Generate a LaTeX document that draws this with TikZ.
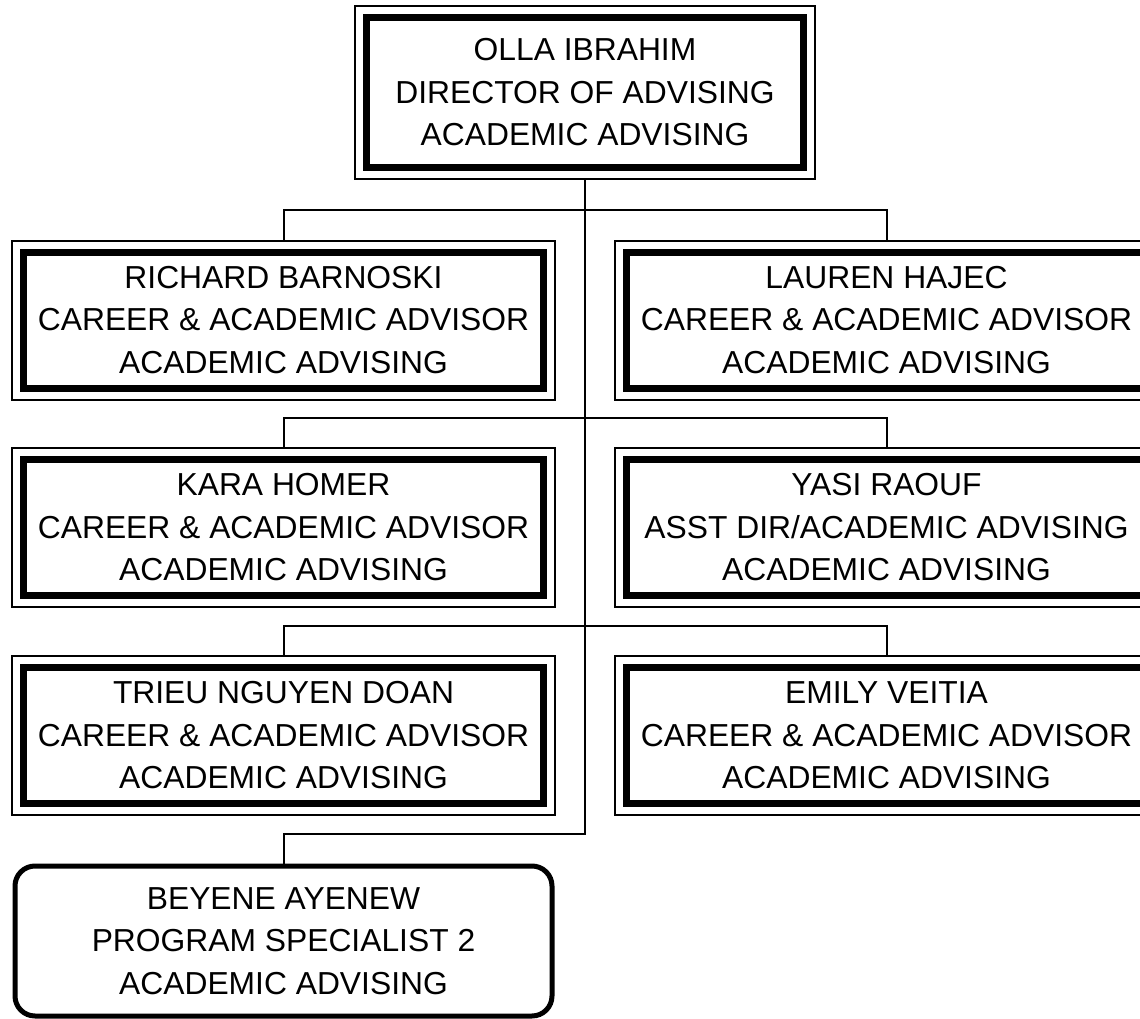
\documentclass[tikz,border=0pt]{standalone}
\usepackage{fontspec}
\setmainfont{Liberation Sans}
\usetikzlibrary{positioning,fit}

\begin{document}
\begin{tikzpicture}[
    x=1pt, y=-1pt,
    txt/.style={align=center, font=\fontsize{31.8}{42.5}\selectfont, inner sep=0pt},
    person/.style={txt, draw, line width=7pt, minimum width=520pt, minimum height=136pt},
    frame/.style={draw, line width=2pt, inner sep=8pt},
    staff/.style={txt, draw, line width=5pt, rounded corners=20pt, minimum width=537pt, minimum height=150pt},
    conn/.style={line width=2pt}
]
    \useasboundingbox (0,0) rectangle (1140,1019);
    \clip (0,0) rectangle (1140,1019);

    % Director
    \node[person, minimum width=437pt, minimum height=150pt] (dir) at (585,92.5) {OLLA IBRAHIM\\DIRECTOR OF ADVISING\\ACADEMIC ADVISING};

    % Advisors
    \node[person] (rb) at (283.5,320) {RICHARD BARNOSKI\\CAREER \& ACADEMIC ADVISOR\\ACADEMIC ADVISING};
    \node[person] (lh) at (886.5,320) {LAUREN HAJEC\\CAREER \& ACADEMIC ADVISOR\\ACADEMIC ADVISING};
    \node[person] (kh) at (283.5,527.5) {KARA HOMER\\CAREER \& ACADEMIC ADVISOR\\ACADEMIC ADVISING};
    \node[person] (yr) at (886.5,527.5) {YASI RAOUF\\ASST DIR/ACADEMIC ADVISING\\ACADEMIC ADVISING};
    \node[person] (td) at (283.5,735.5) {TRIEU NGUYEN DOAN\\CAREER \& ACADEMIC ADVISOR\\ACADEMIC ADVISING};
    \node[person] (ev) at (886.5,735.5) {EMILY VEITIA\\CAREER \& ACADEMIC ADVISOR\\ACADEMIC ADVISING};

    % Program specialist
    \node[staff] (ba) at (283.5,941) {BEYENE AYENEW\\PROGRAM SPECIALIST 2\\ACADEMIC ADVISING};

    % Outer frames
    \foreach \n in {dir,rb,lh,kh,yr,td,ev}
        \node[frame, fit=(\n)] (\n F) {};

    % Trunk junctions
    \coordinate (j1) at (585,210);
    \coordinate (j2) at (585,418);
    \coordinate (j3) at (585,626);
    \coordinate (j4) at (585,834);

    % Connectors
    \draw[conn] (dirF.south) -- (j4) -| (ba.north);
    \draw[conn] (rbF.north) |- (j1) -| (lhF.north);
    \draw[conn] (khF.north) |- (j2) -| (yrF.north);
    \draw[conn] (tdF.north) |- (j3) -| (evF.north);
\end{tikzpicture}
\end{document}
